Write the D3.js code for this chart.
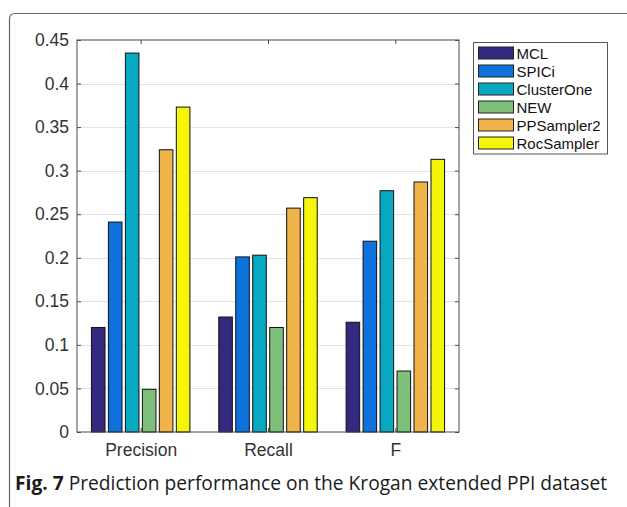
<!DOCTYPE html>
<html>
<head>
<meta charset="utf-8">
<script src="https://cdn.jsdelivr.net/npm/d3@7"></script>
<style>
  html, body { margin: 0; padding: 0; background: #fff; }
  svg { display: block; }
</style>
</head>
<body>
<svg id="chart" width="627" height="507"></svg>
<script>
// ---- data ----
const categories = ["Precision", "Recall", "F"];
const seriesNames = ["MCL", "SPICi", "ClusterOne", "NEW", "PPSampler2", "RocSampler"];
const MCL        = [0.120, 0.132, 0.126];
const SPICi      = [0.241, 0.201, 0.219];
const ClusterOne = [0.435, 0.203, 0.277];
const NEW        = [0.049, 0.120, 0.070];
const PPSampler2 = [0.324, 0.257, 0.287];
const RocSampler = [0.373, 0.269, 0.313];
const seriesValues = [MCL, SPICi, ClusterOne, NEW, PPSampler2, RocSampler];
const seriesColors = ["#33297f", "#0e72dc", "#07a8c2", "#7dbf7b", "#f0b44a", "#f5f50c"];
const yTickValues = [0, 0.05, 0.1, 0.15, 0.2, 0.25, 0.3, 0.35, 0.4, 0.45];
const yTickLabels = ["0", "0.05", "0.1", "0.15", "0.2", "0.25", "0.3", "0.35", "0.4", "0.45"];
const captionBold = "Fig. 7";
const captionText = " Prediction performance on the Krogan extended PPI dataset";

// ---- layout ----
const svg = d3.select("#chart");
const plot = { left: 77, right: 459, top: 40, bottom: 432 };
const axisColor = "#4a4a4a";
const textColor = "#333";
const font = "'Liberation Sans', Arial, Helvetica, sans-serif";

// outer frame (rounded corner at top-left)
svg.append("path")
  .attr("d", "M9.5,507 L9.5,19 Q9.5,13.5 15,13.5 L627,13.5")
  .attr("fill", "none").attr("stroke", "#666").attr("stroke-width", 1.2);

const x0 = d3.scaleBand().domain(categories)
  .range([plot.left, plot.right]).paddingInner(0.2).paddingOuter(0.1);
const x1 = d3.scaleBand().domain(seriesNames)
  .range([0, x0.bandwidth()]).paddingInner(0.2).paddingOuter(0.1);
const y = d3.scaleLinear().domain([0, 0.45]).range([plot.bottom, plot.top]);

// grid
svg.append("g").selectAll("line").data(yTickValues.slice(1, -1)).join("line")
  .attr("x1", plot.left).attr("x2", plot.right)
  .attr("y1", d => Math.round(y(d)) + 0.5).attr("y2", d => Math.round(y(d)) + 0.5)
  .attr("stroke", "#e3e3e3").attr("stroke-width", 1);

// bars
const groups = svg.append("g").selectAll("g").data(categories).join("g")
  .attr("transform", c => `translate(${x0(c)},0)`);
groups.selectAll("rect")
  .data((c, ci) => seriesNames.map((s, si) => ({ s, si, v: seriesValues[si][ci] })))
  .join("rect")
  .attr("x", d => x1(d.s))
  .attr("width", x1.bandwidth())
  .attr("y", d => y(d.v))
  .attr("height", d => y(0) - y(d.v))
  .attr("fill", d => seriesColors[d.si])
  .attr("stroke", "#111").attr("stroke-width", 1);

// axes
const tickFmt = d => yTickLabels[yTickValues.indexOf(d)];
const yLeft = svg.append("g").attr("transform", `translate(${plot.left},0)`)
  .call(d3.axisLeft(y).tickValues(yTickValues).tickFormat(tickFmt).tickSizeInner(-4).tickSizeOuter(0).tickPadding(8));
const yRight = svg.append("g").attr("transform", `translate(${plot.right},0)`)
  .call(d3.axisRight(y).tickValues(yTickValues).tickFormat("").tickSizeInner(-4).tickSizeOuter(0));
const xCenter = c => x0(c) + x0.bandwidth() / 2;
const xScaleCenters = d3.scalePoint().domain(categories)
  .range([xCenter(categories[0]), xCenter(categories[categories.length - 1])]);
const xBottom = svg.append("g").attr("transform", `translate(0,${plot.bottom})`)
  .call(d3.axisBottom(xScaleCenters).tickSizeInner(-4).tickSizeOuter(0).tickPadding(12));
const xTop = svg.append("g").attr("transform", `translate(0,${plot.top})`)
  .call(d3.axisTop(xScaleCenters).tickFormat("").tickSizeInner(-4).tickSizeOuter(0));

[yLeft, yRight, xBottom, xTop].forEach(g => {
  g.select(".domain").remove();
  g.selectAll("line").attr("stroke", axisColor);
  g.selectAll("text").attr("fill", textColor).style("font-family", font).style("font-size", "17.5px");
});
// box
svg.append("rect")
  .attr("x", plot.left).attr("y", plot.top)
  .attr("width", plot.right - plot.left).attr("height", plot.bottom - plot.top)
  .attr("fill", "none").attr("stroke", axisColor).attr("stroke-width", 1);

// legend
const leg = svg.append("g");
leg.append("rect").attr("x", 473.5).attr("y", 42.5).attr("width", 134).attr("height", 111.5)
  .attr("fill", "#fff").attr("stroke", "#555").attr("stroke-width", 1);
const items = leg.selectAll("g.item").data(seriesNames).join("g")
  .attr("transform", (d, i) => `translate(0,${53 + i * 18})`);
items.append("rect").attr("x", 478.5).attr("y", -6).attr("width", 35).attr("height", 12)
  .attr("fill", (d, i) => seriesColors[i]).attr("stroke", "#222").attr("stroke-width", 1);
items.append("text").attr("x", 516.5).attr("y", 5.5).text(d => d)
  .attr("fill", "#111").style("font-family", font).style("font-size", "15px");

// caption
const cap = svg.append("text").attr("x", 15).attr("y", 490)
  .style("font-family", "'Open Sans', 'Noto Sans', sans-serif").style("font-size", "19.2px").attr("fill", "#1a1a1a");
cap.append("tspan").style("font-weight", "bold").text(captionBold);
cap.append("tspan").text(captionText);
</script>
</body>
</html>
